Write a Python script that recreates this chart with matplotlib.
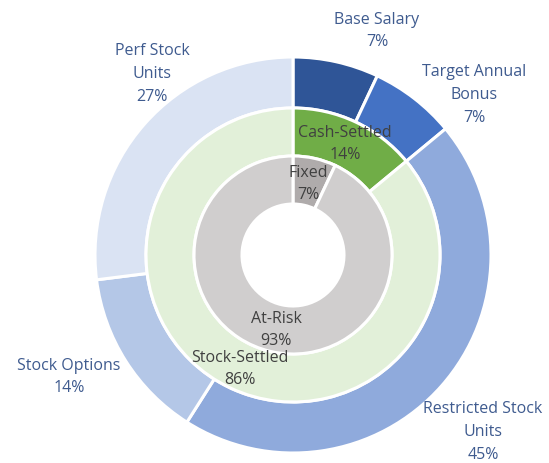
import matplotlib
matplotlib.use("Agg")
import matplotlib.pyplot as plt

# ---- data ----
outer_labels = ["Base Salary", "Target Annual\nBonus", "Restricted Stock\nUnits", "Stock Options", "Perf Stock\nUnits"]
outer_values = [7, 7, 45, 14, 27]
middle_labels = ["Cash-Settled", "Stock-Settled"]
middle_values = [14, 86]
inner_labels = ["Fixed", "At-Risk"]
inner_values = [7, 93]

# ---- styles / layout ----
outer_colors = ["#2F5597", "#4472C4", "#8FAADC", "#B4C7E7", "#DAE3F3"]
middle_colors = ["#70AD47", "#E2F0D9"]
inner_colors = ["#AFABAB", "#D0CECE"]
W, H = 549, 464
cx, cy = 293, H - 256
R_out, R_mid, R_in, R_hole = 198, 147, 99, 51

outer_pos = [(377, 31), (474, 95), (483, 432), (69, 377), (152, 74)]
middle_pos = [(345, 144), (240, 369)]
inner_pos = [(308, 184), (276, 330)]

plt.rcParams['font.family'] = ['Open Sans', 'DejaVu Sans']

fig = plt.figure(figsize=(W / 100, H / 100), dpi=100)
ax = fig.add_axes([0, 0, 1, 1])

wp = dict(edgecolor='white', linewidth=2.2)
ax.pie(outer_values, radius=R_out, center=(cx, cy), colors=outer_colors,
       startangle=90, counterclock=False,
       wedgeprops=dict(width=R_out - R_mid, **wp))
ax.pie(middle_values, radius=R_mid, center=(cx, cy), colors=middle_colors,
       startangle=90, counterclock=False,
       wedgeprops=dict(width=R_mid - R_in, **wp))
ax.pie(inner_values, radius=R_in, center=(cx, cy), colors=inner_colors,
       startangle=90, counterclock=False,
       wedgeprops=dict(width=R_in - R_hole, **wp))
ax.set_xlim(0, W)
ax.set_ylim(0, H)
ax.set_aspect('equal')
ax.axis('off')

fs = 11.5
ls = 1.55
for lab, v, (x, y) in zip(outer_labels, outer_values, outer_pos):
    ax.text(x, H - y, f"{lab}\n{v}%", ha='center', va='center', fontsize=fs,
            color='#3F5B8F', linespacing=ls)
for lab, v, (x, y) in zip(middle_labels, middle_values, middle_pos):
    ax.text(x, H - y, f"{lab}\n{v}%", ha='center', va='center', fontsize=fs,
            color='#404040', linespacing=ls)
for lab, v, (x, y) in zip(inner_labels, inner_values, inner_pos):
    ax.text(x, H - y, f"{lab}\n{v}%", ha='center', va='center', fontsize=fs,
            color='#404040', linespacing=ls)

fig.savefig("out.png", dpi=100)
